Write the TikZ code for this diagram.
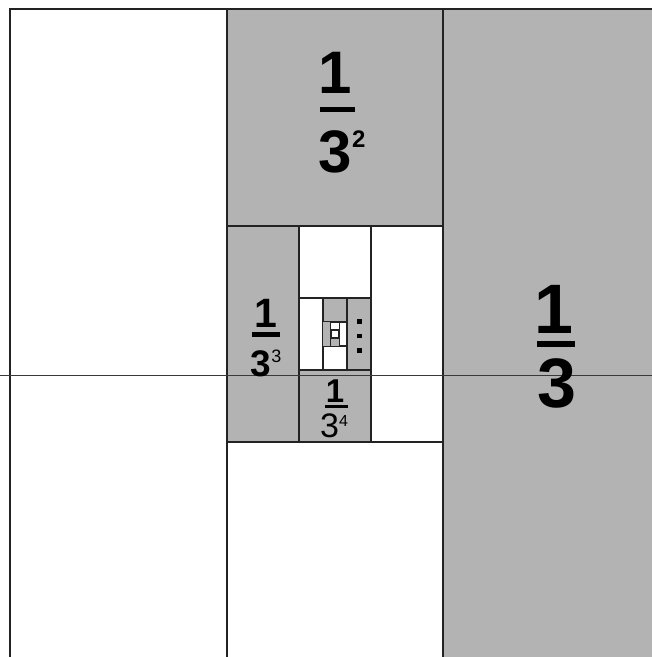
\documentclass[tikz,border=0pt]{standalone}
\usepackage{fontspec}
\setmainfont{Liberation Sans}
\definecolor{cellgray}{RGB}{179,179,179}
\definecolor{linedark}{RGB}{35,35,35}
\tikzset{
  gcell/.style={fill=cellgray},
  gridline/.style={draw=linedark,line width=#1},
  gridline/.default=2pt,
  axisline/.style={draw=linedark!90,line width=1pt},
  fracnum/.style={inner sep=0pt,anchor=base,text=black},
  fracbar/.style={fill=black},
  dotmark/.style={fill=black}
}
% #1 x0, #2 y0, #3 third, #4 line width
\newcommand\sqlevelA[4]{%
  \fill[gcell] ({#1+#3},{#2}) rectangle ({#1+2*#3},{#2+#3});
  \fill[gcell] ({#1+2*#3},{#2}) rectangle ({#1+3*#3},{#2+3*#3});
  \draw[gridline=#4] ({#1},{#2}) rectangle ({#1+3*#3},{#2+3*#3});
  \draw[gridline=#4] ({#1+#3},{#2}) -- ({#1+#3},{#2+3*#3});
  \draw[gridline=#4] ({#1+2*#3},{#2}) -- ({#1+2*#3},{#2+3*#3});
  \draw[gridline=#4] ({#1+#3},{#2+#3}) -- ({#1+2*#3},{#2+#3});
  \draw[gridline=#4] ({#1+#3},{#2+2*#3}) -- ({#1+2*#3},{#2+2*#3});
}
\newcommand\sqlevelB[4]{%
  \fill[gcell] ({#1},{#2}) rectangle ({#1+#3},{#2+3*#3});
  \fill[gcell] ({#1+#3},{#2+2*#3}) rectangle ({#1+2*#3},{#2+3*#3});
  \draw[gridline=#4] ({#1},{#2}) rectangle ({#1+3*#3},{#2+3*#3});
  \draw[gridline=#4] ({#1+#3},{#2}) -- ({#1+#3},{#2+3*#3});
  \draw[gridline=#4] ({#1+2*#3},{#2}) -- ({#1+2*#3},{#2+3*#3});
  \draw[gridline=#4] ({#1+#3},{#2+#3}) -- ({#1+2*#3},{#2+#3});
  \draw[gridline=#4] ({#1+#3},{#2+2*#3}) -- ({#1+2*#3},{#2+2*#3});
}
\begin{document}
\begin{tikzpicture}[x=1pt,y=-1pt]
\useasboundingbox[fill=white] (0,0) rectangle (652,657);
\begin{scope}
\clip (0,0) rectangle (652,657);
\sqlevelA{10}{9}{216.667}{2.1pt}
\sqlevelB{226.667}{225.667}{72.222}{1.9pt}
\sqlevelA{298.889}{297.889}{24.074}{1.5pt}
\sqlevelB{322.963}{321.963}{8.025}{1pt}
\draw[gridline=0.6pt] (331.5,330.5) rectangle (338.5,337.5);
\end{scope}
% axis line
\coordinate (axL) at (0,375);
\coordinate (axR) at (652,375);
\draw[axisline] (axL) -- (axR);
% 1/3
\node[fracnum,font=\fontsize{70}{70}\selectfont\bfseries] (n1) at (553.5,333) {1};
\fill[fracbar] (537,340.5) rectangle (575,346.5);
\node[fracnum,font=\fontsize{70}{70}\selectfont\bfseries] (d1) at (557,407) {3};
% 1/3^2
\node[fracnum,font=\fontsize{60}{60}\selectfont\bfseries] (n2) at (335,93) {1};
\fill[fracbar] (320,107) rectangle (355,112);
\node[fracnum,font=\fontsize{60}{60}\selectfont\bfseries] (d2) at (342,172) {3\raisebox{25pt}{\fontsize{24}{24}\selectfont 2}};
% 1/3^3
\node[fracnum,font=\fontsize{41}{41}\selectfont\bfseries] (n3) at (265.5,327) {1};
\fill[fracbar] (252,332) rectangle (280,337);
\node[fracnum,font=\fontsize{37}{37}\selectfont\bfseries] (d3) at (266,376.5) {3\raisebox{14pt}{\fontsize{18}{18}\selectfont\mdseries 3}};
% 1/3^4
\node[fracnum,font=\fontsize{33}{33}\selectfont\bfseries] (n4) at (335,402) {1};
\fill[fracbar] (325,404.8) rectangle (348,408);
\node[fracnum,font=\fontsize{34}{34}\selectfont\mdseries] (d4) at (334,437.5) {3\raisebox{11.5pt}{\fontsize{16}{16}\selectfont 4}};
% dots
\fill[dotmark] (357,319) rectangle (361.5,323.5);
\fill[dotmark] (357,333.5) rectangle (361.5,338);
\fill[dotmark] (357,348) rectangle (361.5,352.5);
\end{tikzpicture}
\end{document}
